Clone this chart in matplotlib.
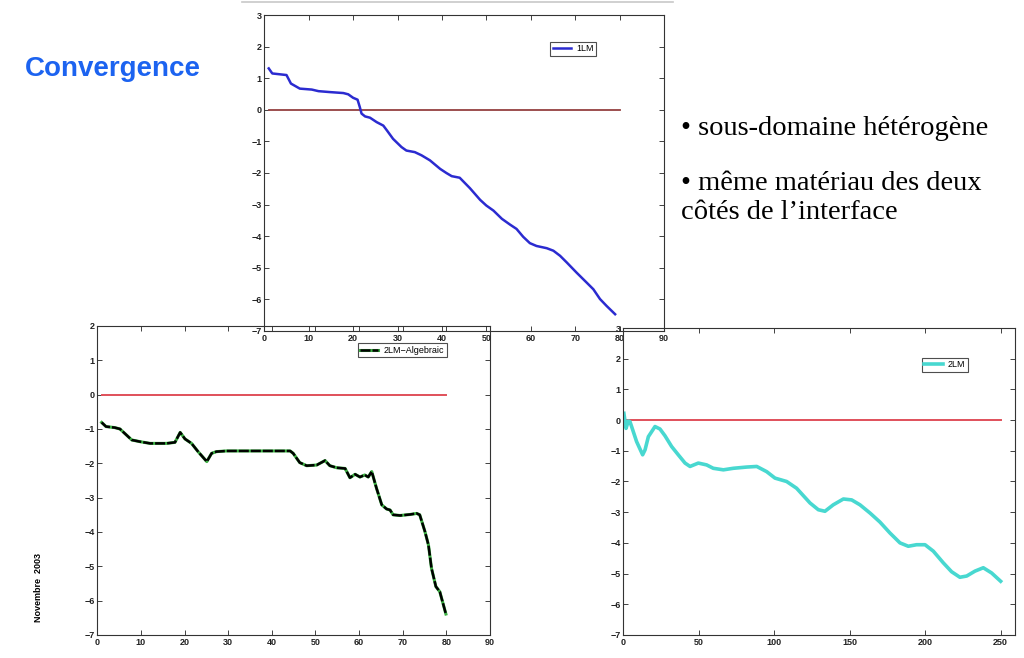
import numpy as np
import matplotlib
matplotlib.use('Agg')
import matplotlib.pyplot as plt
from matplotlib.lines import Line2D

plt.rcParams['font.family'] = ['Liberation Sans', 'DejaVu Sans']

# 1LM (top plot)
x_1lm = [1, 1.8, 5.0, 6.0, 8.0, 10.7, 12.2, 14.8, 17.8, 18.9, 20.0, 21.0, 21.5, 21.9, 22.7,
         23.8, 25.3, 26.8, 27.6, 29.0, 30.9, 32.0, 33.9, 35.4, 37.3, 39.6, 41.0, 42.2, 44.0,
         46.3, 48.6, 50.0, 51.6, 53.5, 55.3, 56.8, 58.3, 59.8, 61.3, 63.6, 65.1, 66.6, 68.1,
         70.3, 72.6, 74.1, 75.6, 77.1, 79.0]
y_1lm = [1.31, 1.15, 1.10, 0.83, 0.67, 0.64, 0.59, 0.56, 0.53, 0.49, 0.38, 0.32, 0.09, -0.12, -0.21,
         -0.25, -0.39, -0.50, -0.65, -0.92, -1.18, -1.29, -1.34, -1.44, -1.60, -1.87, -2.00, -2.10, -2.15,
         -2.48, -2.85, -3.03, -3.19, -3.45, -3.63, -3.77, -4.02, -4.22, -4.31, -4.38, -4.46, -4.62, -4.83,
         -5.15, -5.47, -5.68, -5.99, -6.21, -6.47]

# 2LM-Algebraic (bottom left)
x_alg = [1.0, 2.0, 4.0, 5.2, 6.3, 7.9, 9.8, 12.1, 15.9, 17.8, 19.0, 20.1, 21.6, 23.1, 25.1, 26.2,
         27.3, 29.6, 37.3, 44.2, 44.9, 46.4, 48.0, 50.3, 52.2, 53.3, 54.9, 56.8, 57.9, 59.1, 60.2,
         61.3, 62.1, 62.9, 64.0, 65.2, 66.3, 67.1, 67.8, 69.4, 71.7, 73.2, 73.9, 75.1, 75.9, 76.6,
         77.6, 78.5, 79.9]
y_alg = [-0.81, -0.93, -0.96, -1.00, -1.13, -1.32, -1.37, -1.42, -1.42, -1.39, -1.10, -1.29, -1.42,
         -1.66, -1.95, -1.71, -1.66, -1.64, -1.64, -1.64, -1.71, -1.98, -2.07, -2.05, -1.92, -2.07,
         -2.13, -2.15, -2.42, -2.32, -2.40, -2.34, -2.40, -2.24, -2.73, -3.21, -3.33, -3.36, -3.50,
         -3.52, -3.49, -3.46, -3.50, -3.99, -4.38, -5.06, -5.59, -5.74, -6.39]

# 2LM (bottom right)
x_2lm = [0.4, 1.8, 3.3, 4.4, 5.5, 8.8, 12.8, 14.4, 16.6, 21.0, 24.3, 27.6, 32.0, 36.4, 40.9, 44.2,
         49.7, 55.2, 59.6, 66.3, 72.9, 81.7, 88.4, 95.0, 100.5, 108.2, 114.8, 123.7, 129.2, 133.6,
         139.1, 145.8, 151.3, 156.8, 163.5, 170.0, 176.7, 183.3, 188.8, 194.3, 199.9, 205.4, 212.0,
         217.5, 223.0, 227.5, 233.0, 238.5, 244.0, 250.0]
y_2lm = [0.22, -0.27, -0.03, -0.05, -0.21, -0.70, -1.13, -0.97, -0.54, -0.21, -0.29, -0.51, -0.86,
         -1.13, -1.40, -1.51, -1.40, -1.46, -1.57, -1.62, -1.57, -1.53, -1.51, -1.68, -1.89, -2.00,
         -2.22, -2.70, -2.92, -2.97, -2.76, -2.57, -2.60, -2.76, -3.03, -3.32, -3.68, -4.00, -4.11,
         -4.06, -4.06, -4.27, -4.65, -4.94, -5.12, -5.08, -4.92, -4.81, -4.98, -5.25]

bullets = ['\u2022 sous-domaine h\u00e9t\u00e9rog\u00e8ne',
           '\u2022 m\u00eame mat\u00e9riau des deux',
           'c\u00f4t\u00e9s de l\u2019interface']


def style_axes(ax, xlim, ylim, xticks, yticks):
    ax.set_facecolor('none')
    ax.set_xlim(*xlim)
    ax.set_ylim(*ylim)
    ax.set_xticks(xticks)
    ax.set_yticks(yticks)
    ax.tick_params(direction='in', length=3.5, width=0.6, top=True, right=True,
                   labelsize=6.5, pad=2, colors='#222222')
    for lab in ax.get_xticklabels() + ax.get_yticklabels():
        lab.set_fontweight('bold')
    for s in ax.spines.values():
        s.set_color('#333333')
        s.set_linewidth(0.8)


def small_legend(ax, handles, labels, x0, ytop):
    leg = ax.legend(handles, labels, loc='upper left', bbox_to_anchor=(x0, ytop),
                    fontsize=6.5, frameon=True, fancybox=False, borderaxespad=0,
                    borderpad=0.3, handlelength=2.0, handletextpad=0.6)
    leg.get_frame().set_edgecolor('#222222')
    leg.get_frame().set_linewidth(0.8)
    return leg


fig = plt.figure(figsize=(10.24, 6.58), dpi=100)

# bottom left
ax_l = fig.add_axes([0.0950, 0.0350, 0.3835, 0.4696])
ax_l.plot([1, 80], [0, 0], color='#e0505a', lw=1.4)
g, = ax_l.plot(x_alg, y_alg, color='#3cb043', lw=2.2)
k, = ax_l.plot(x_alg, y_alg, color='black', lw=1.8, ls=(0, (4, 0.8)))
style_axes(ax_l, (0, 90), (-7, 2), range(0, 91, 10), range(-7, 3))
small_legend(ax_l, [(g, k)], ['2LM\u2212Algebraic'], 0.663, 0.945)

# top
ax_t = fig.add_axes([0.2581, 0.4970, 0.3903, 0.4802])
ax_t.plot([1, 80], [0, 0], color='#944040', lw=1.3)
b, = ax_t.plot(x_1lm, y_1lm, color='#2b2bd0', lw=1.8)
style_axes(ax_t, (0, 90), (-7, 3), range(0, 91, 10), range(-7, 4))
small_legend(ax_t, [b], ['1LM'], 0.715, 0.9155)

# bottom right
ax_r = fig.add_axes([0.6087, 0.0350, 0.3825, 0.4665])
ax_r.plot([1, 250], [0, 0], color='#e0505a', lw=1.4)
c, = ax_r.plot(x_2lm, y_2lm, color='#48d8d0', lw=2.6)
style_axes(ax_r, (0, 259.5), (-7, 3), range(0, 251, 50), range(-7, 4))
small_legend(ax_r, [c], ['2LM'], 0.762, 0.903)

# slide decorations
fig.add_artist(Line2D([242 / 1024, 673 / 1024], [1 - 1.5 / 658, 1 - 1.5 / 658],
                      color='#c8c8c8', lw=1.2, transform=fig.transFigure))

fig.text(25 / 1024, 1 - 76 / 658, 'Convergence', fontsize=20, fontweight='bold',
         color='#1c63f0', va='baseline', ha='left')

serif = ['Liberation Serif', 'DejaVu Serif']
fig.text(681 / 1024, 1 - 135 / 658, bullets[0], fontsize=20.5, family=serif,
         va='baseline', ha='left')
fig.text(681 / 1024, 1 - 190 / 658, bullets[1], fontsize=20.5, family=serif,
         va='baseline', ha='left')
fig.text(681 / 1024, 1 - 219 / 658, bullets[2], fontsize=20.5, family=serif,
         va='baseline', ha='left')

fig.text(38.5 / 1024, 1 - 587 / 658, 'Novembre  2003', fontsize=6.5, fontweight='bold',
         rotation=90, va='center', ha='center')

fig.savefig('out.png', dpi=100)
